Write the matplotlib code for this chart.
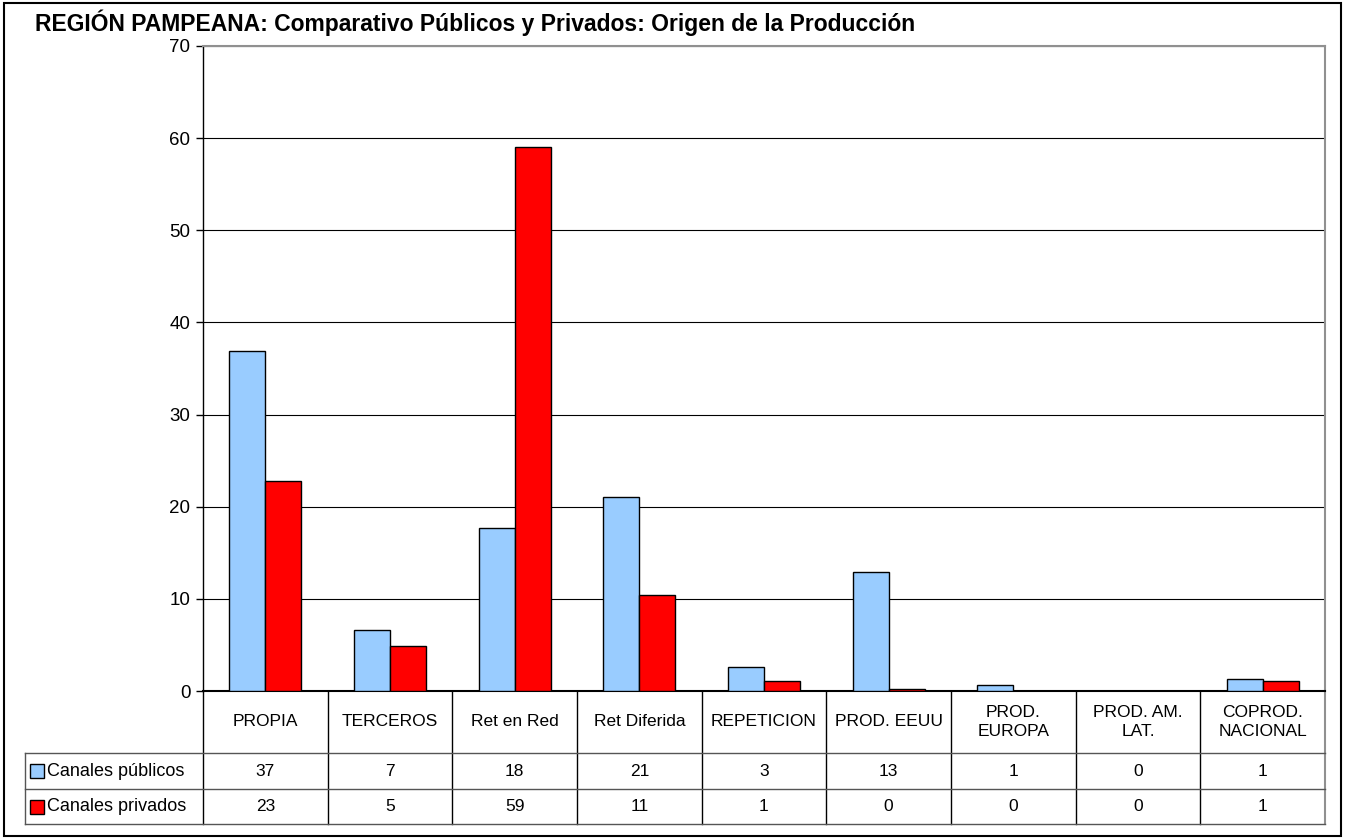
import numpy as np
import matplotlib.pyplot as plt
from matplotlib.patches import Rectangle
from matplotlib.transforms import blended_transform_factory

plt.rcParams['font.family'] = ['Liberation Sans', 'DejaVu Sans']

#################### Datos ####################
categorias = ['PROPIA', 'TERCEROS', 'Ret en Red', 'Ret Diferida', 'REPETICION',
              'PROD. EEUU', 'PROD.\nEUROPA', 'PROD. AM.\nLAT.', 'COPROD.\nNACIONAL']
series = ['Canales públicos', 'Canales privados']

# bar heights
publicos = [36.9, 6.6, 17.7, 21.1, 2.6, 12.9, 0.7, 0.0, 1.3]
privados = [22.8, 4.9, 59.0, 10.4, 1.1, 0.2, 0.0, 0.0, 1.1]

# values printed in the data table
tabla_publicos = [37, 7, 18, 21, 3, 13, 1, 0, 1]
tabla_privados = [23, 5, 59, 11, 1, 0, 0, 0, 1]

colores = ['#99CCFF', '#FF0000']

#################### Figura ####################
W, H = 1345, 840
fig = plt.figure(figsize=(W / 100, H / 100), dpi=100)

# plot area in pixel terms
x0, x1, ytop, y0 = 203, 1325, 46, 691
ax = fig.add_axes([x0 / W, (H - y0) / H, (x1 - x0) / W, (y0 - ytop) / H])

x = np.arange(len(categorias))
ancho = 0.29
ax.bar(x - ancho / 2, publicos, ancho, color=colores[0], edgecolor='black', linewidth=1, zorder=3)
ax.bar(x + ancho / 2, privados, ancho, color=colores[1], edgecolor='black', linewidth=1, zorder=3)

ax.set_xlim(-0.5, len(categorias) - 0.5)
ax.set_ylim(0, 70)
ax.set_yticks(range(0, 71, 10))
ax.tick_params(axis='y', direction='out', length=5, labelsize=13.5, width=1, pad=4)
ax.set_xticks([])
ax.yaxis.grid(True, color='black', linewidth=0.8)
ax.set_axisbelow(True)

for lado in ['top', 'right']:
    ax.spines[lado].set_color('#909090')
    ax.spines[lado].set_linewidth(1.5)
ax.spines['left'].set_linewidth(1)
ax.spines['bottom'].set_linewidth(1.5)

#################### Tabla de datos ####################
tr = blended_transform_factory(ax.transData, ax.transAxes)
alto = y0 - ytop


def fy(ypix):
    return -(ypix - y0) / alto


def fx(xpix):
    return (xpix - x0) / ((x1 - x0) / len(categorias)) - 0.5


fila1, fila2, fila3 = fy(753), fy(789), fy(824)
izq = fx(25)
der = len(categorias) - 0.5

# vertical lines
for i in range(len(categorias) + 1):
    xc = i - 0.5
    col = '#909090' if i == len(categorias) else 'black'
    ax.plot([xc, xc], [0, fila3], color=col, lw=1 if i < len(categorias) else 1.5,
            transform=tr, clip_on=False)
ax.plot([izq, izq], [fila1, fila3], color='#555555', lw=1, transform=tr, clip_on=False)

# horizontal lines
for yf in [fila1, fila2, fila3]:
    ax.plot([izq, der], [yf, yf], color='#555555', lw=1, transform=tr, clip_on=False)

# category labels
for i, cat in enumerate(categorias):
    ax.text(i, (0 + fila1) / 2, cat, ha='center', va='center', fontsize=12.5,
            linespacing=1.4, transform=tr)

# rows
for valores, ycen in [(tabla_publicos, (fila1 + fila2) / 2), (tabla_privados, (fila2 + fila3) / 2)]:
    for i, v in enumerate(valores):
        ax.text(i, ycen, str(v), ha='center', va='center', fontsize=12.5, transform=tr)

for nombre, color, ycen in [(series[0], colores[0], (fila1 + fila2) / 2),
                            (series[1], colores[1], (fila2 + fila3) / 2)]:
    ax.plot([fx(37)], [ycen], marker='s', markersize=10, markerfacecolor=color,
            markeredgecolor='black', markeredgewidth=1, transform=tr, clip_on=False)
    ax.text(fx(47), ycen, nombre, ha='left', va='center', fontsize=13, transform=tr)

#################### Titulo y borde ####################
fig.text(35 / W, 1 - 23 / H, 'REGIÓN PAMPEANA: Comparativo Públicos y Privados: Origen de la Producción',
         fontsize=16.5, fontweight='bold', ha='left', va='center')

fig.add_artist(Rectangle((4 / W, 4 / H), 1 - 8 / W, 1 - 7 / H, transform=fig.transFigure,
                         fill=False, edgecolor='black', linewidth=1.5))

fig.savefig('out.png', dpi=100)
